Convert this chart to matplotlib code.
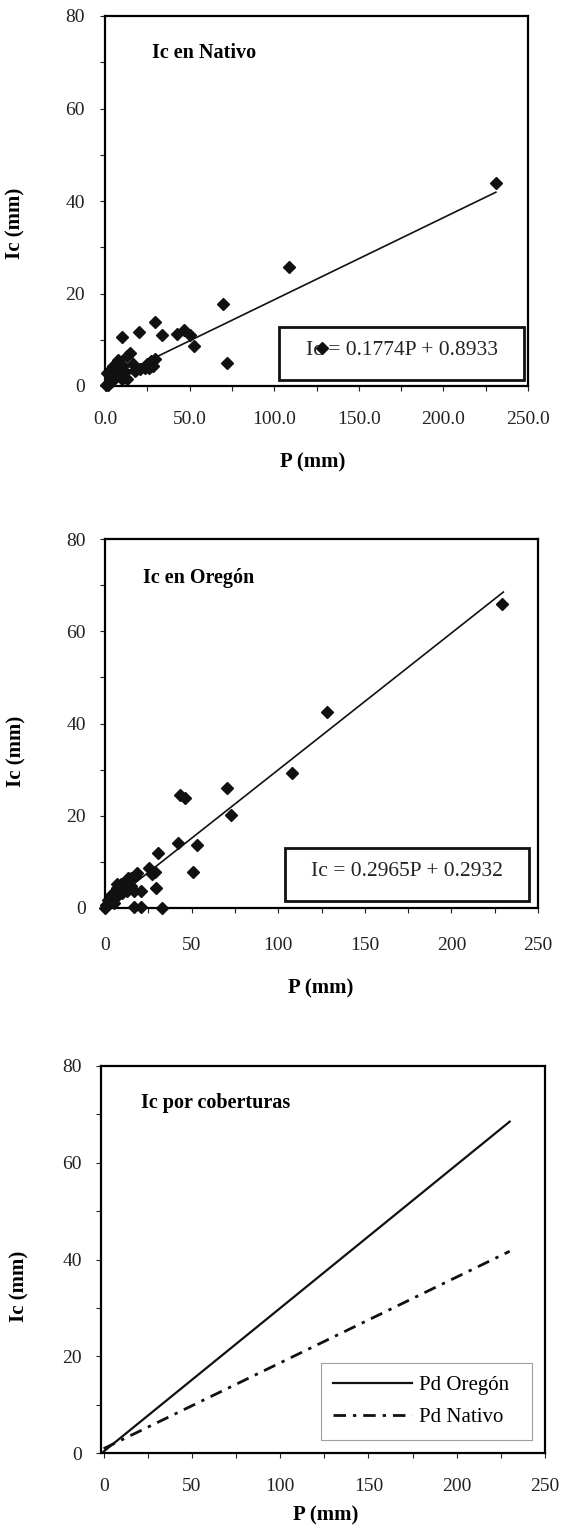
import matplotlib
matplotlib.use("Agg")
import matplotlib.pyplot as plt
from matplotlib.patches import Rectangle
from matplotlib.ticker import MultipleLocator, FormatStrFormatter

plt.rcParams["font.family"] = ["Liberation Serif", "DejaVu Serif"]

# Ic en Nativo: scatter values
p_nativo = [231, 109, 128, 69.9, 71.9, 52.6, 29.5, 20.3, 10.2, 33.5, 42.4, 46.7, 50.2,
            27.0, 28.5, 26.0, 29.5, 23.6, 20.7, 16.7, 14.8, 12.8, 7.9, 4.9, 10.8,
            9.8, 1.0, 2.9, 0.3, 1.5, 4.3, 6.2, 12.0, 13.0, 8.5, 5.5, 3.0, 17.5, 25.0]
ic_nativo = [43.8, 25.8, 8.3, 17.7, 4.9, 8.6, 13.9, 11.6, 10.7, 11.1, 11.2, 12.1, 11.0,
             5.3, 4.3, 4.0, 5.8, 4.0, 3.6, 4.7, 7.1, 6.4, 5.7, 4.3, 4.3,
             1.5, 2.9, 1.8, 0.3, 0.3, 1.0, 2.3, 3.0, 1.5, 3.6, 3.0, 0.8, 3.2, 4.8]

# Ic en Oregón
p_oregon = [229.3, 128, 108.2, 70.4, 73.0, 43.1, 46.3, 42.0, 53.1, 50.6, 32.8,
            16.7, 20.8, 20.6, 29.4, 30.4, 25.6, 28.9, 27.0, 18.3, 14.8,
            12.0, 9.1, 7.2, 10.0, 12.9, 7.2, 4.3, 2.4, 5.3, 0.7, 0.0, 3.3, 1.5,
            14.8, 16.7, 6.8, 17.5, 13.2]
ic_oregon = [65.8, 42.6, 29.3, 26.0, 20.2, 24.6, 23.8, 14.1, 13.7, 7.9, 0.0,
             0.3, 0.3, 3.7, 4.4, 11.9, 8.6, 7.7, 7.4, 7.5, 6.6,
             4.7, 5.1, 4.4, 3.3, 3.7, 2.5, 2.1, 1.4, 1.1, 0.7, 0.0, 2.8, 1.8,
             4.7, 3.7, 5.1, 6.9, 6.5]

# regression lines (end points)
p_line = [0, 230]
ic_line_nativo = [0.9, 41.7]
ic_line_oregon = [0.3, 68.5]

eq_nativo = "Ic = 0.1774P + 0.8933"
eq_oregon = "Ic = 0.2965P + 0.2932"

W, H = 578, 1530
fig = plt.figure(figsize=(W / 100, H / 100), dpi=100)


def _axes(box):
    left, top, right, bottom = box
    return fig.add_axes([left / W, 1 - bottom / H, (right - left) / W, (bottom - top) / H])


def _style(ax, xfmt, xpad, ypad, ylab_xy, xlab_xy):
    ax.set_ylim(0, 80)
    ax.yaxis.set_major_locator(MultipleLocator(20))
    ax.yaxis.set_minor_locator(MultipleLocator(10))
    ax.xaxis.set_major_locator(MultipleLocator(50))
    ax.xaxis.set_minor_locator(MultipleLocator(25))
    ax.xaxis.set_major_formatter(FormatStrFormatter(xfmt))
    for s in ax.spines.values():
        s.set_linewidth(1.6)
    ax.tick_params(which="both", direction="out", length=3.6, width=0.8, colors="#222")
    ax.tick_params(axis="x", which="major", labelsize=14, pad=xpad)
    ax.tick_params(axis="y", which="major", labelsize=14, pad=ypad)
    ax.set_ylabel("Ic (mm)", fontsize=15, fontweight="bold")
    ax.set_xlabel("P (mm)", fontsize=15, fontweight="bold")
    ax.yaxis.set_label_coords(*ylab_xy)
    ax.xaxis.set_label_coords(*xlab_xy)


def _eq_box(ax, box, text):
    x0, y0, x1, y1 = box
    ax.add_patch(Rectangle((x0, y0), x1 - x0, y1 - y0, transform=ax.transAxes,
                           facecolor="white", edgecolor="#111", linewidth=2.0, zorder=3))
    ax.text((x0 + x1) / 2, (y0 + y1) / 2 + 0.008, text, transform=ax.transAxes,
            ha="center", va="center", fontsize=15.5, color="#222", zorder=4)


# panel 1
ax1 = _axes((105, 16, 528, 386))
ax1.set_xlim(0, 250)
ax1.plot([p_line[0], 231], [ic_line_nativo[0], 41.9], color="#111", linewidth=1.2, zorder=2)
_eq_box(ax1, (0.411, 0.016, 0.991, 0.159), eq_nativo)
ax1.plot(p_nativo, ic_nativo, linestyle="none", marker="D", markersize=6.4,
         color="#111", zorder=5, clip_on=False)
ax1.text(0.111, 0.899, "Ic en Nativo", transform=ax1.transAxes, fontsize=14.5,
         fontweight="bold", va="center", ha="left")
_style(ax1, "%.1f", 14.5, 11, (-0.187, 0.44), (0.49, -0.181))

# panel 2
ax2 = _axes((105, 539, 538, 908))
ax2.set_xlim(0, 250)
ax2.plot(p_line, ic_line_oregon, color="#111", linewidth=1.2, zorder=2)
_eq_box(ax2, (0.416, 0.019, 0.979, 0.163), eq_oregon)
ax2.plot(p_oregon, ic_oregon, linestyle="none", marker="D", markersize=6.4,
         color="#111", zorder=5, clip_on=False)
ax2.text(0.087, 0.894, "Ic en Oregón", transform=ax2.transAxes, fontsize=14.5,
         fontweight="bold", va="center", ha="left")
_style(ax2, "%d", 17, 10, (-0.182, 0.425), (0.497, -0.19))

# panel 3
ax3 = _axes((101, 1066, 545, 1453))
ax3.set_xlim(-1.5, 250)
ax3.plot(p_line, ic_line_oregon, color="#111", linewidth=1.6, label="Pd Oregón")
ax3.plot(p_line, ic_line_nativo, color="#111", linewidth=2.0,
         dashes=(4.5, 2.5, 1.2, 2.5), label="Pd Nativo")
ax3.text(0.089, 0.904, "Ic por coberturas", transform=ax3.transAxes, fontsize=14.5,
         fontweight="bold", va="center", ha="left")
leg = ax3.legend(loc="lower left", bbox_to_anchor=(0.495, 0.034, 0.476, 0.193),
                 mode="expand", borderaxespad=0, fontsize=15, handlelength=3.8,
                 handletextpad=0.3, labelspacing=0.6, fancybox=False,
                 frameon=True, borderpad=0.6)
leg.get_frame().set_edgecolor("#888")
leg.get_frame().set_linewidth(0.8)
_style(ax3, "%d", 14.5, 10, (-0.16, 0.43), (0.505, -0.136))

fig.savefig("out.png", dpi=100)
